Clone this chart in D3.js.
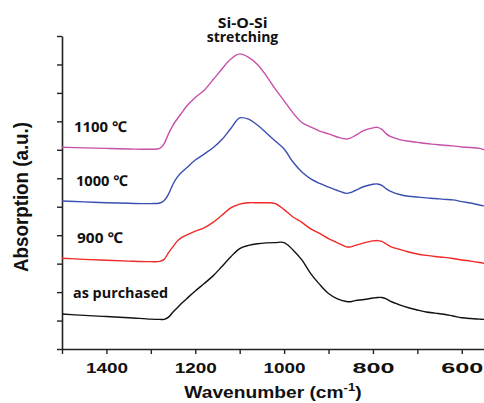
<!DOCTYPE html>
<html>
<head>
<meta charset="utf-8">
<script src="https://cdn.jsdelivr.net/npm/d3@7"></script>
<style>
    body { margin: 0; background: #fff; }
    svg { display: block; }
</style>
</head>
<body>
<svg id="chart" width="484" height="403"></svg>
<script>
// wavenumber (cm-1) sample points, shared by all four spectra
const wavenumbers = [1500, 1450, 1400, 1350, 1300, 1280, 1270, 1260, 1250, 1240, 1230, 1220,
    1200, 1180, 1160, 1140, 1120, 1100, 1080, 1060, 1040, 1020, 1000, 980, 960, 940, 920, 900,
    880, 860, 850, 840, 820, 800, 790, 780, 770, 760, 740, 720, 700, 680, 660, 640, 620, 600,
    580, 560, 550];

const asPurchased = [1.23, 1.18, 1.14, 1.10, 1.05, 1.04, 1.04, 1.12, 1.30, 1.46, 1.62, 1.76,
    2.04, 2.30, 2.57, 2.90, 3.24, 3.53, 3.64, 3.70, 3.73, 3.74, 3.74, 3.48, 3.13, 2.65, 2.27, 1.95,
    1.76, 1.67, 1.66, 1.70, 1.74, 1.79, 1.81, 1.81, 1.76, 1.67, 1.55, 1.45, 1.37, 1.30, 1.26, 1.22,
    1.16, 1.10, 1.07, 1.05, 1.04];

const t900 = [3.19, 3.15, 3.12, 3.09, 3.07, 3.08, 3.15, 3.39, 3.60, 3.80, 3.92, 4.00,
    4.14, 4.26, 4.45, 4.70, 4.96, 5.09, 5.14, 5.14, 5.14, 5.11, 4.90, 4.64, 4.45, 4.22, 4.06, 3.88,
    3.73, 3.59, 3.59, 3.64, 3.73, 3.80, 3.81, 3.78, 3.69, 3.60, 3.50, 3.41, 3.34, 3.29, 3.25, 3.22,
    3.18, 3.13, 3.09, 3.04, 3.01];

const t1000 = [5.20, 5.17, 5.14, 5.12, 5.11, 5.13, 5.22, 5.45, 5.80, 6.05, 6.22, 6.36,
    6.64, 6.85, 7.07, 7.36, 7.75, 8.12, 8.08, 7.87, 7.59, 7.31, 7.03, 6.57, 6.22, 5.98, 5.82, 5.69,
    5.57, 5.47, 5.50, 5.57, 5.71, 5.79, 5.80, 5.75, 5.63, 5.54, 5.43, 5.37, 5.34, 5.31, 5.29, 5.26,
    5.24, 5.18, 5.13, 5.06, 5.03];

const t1100 = [7.09, 7.07, 7.05, 7.03, 7.02, 7.05, 7.22, 7.57, 7.87, 8.10, 8.31, 8.52,
    8.84, 9.09, 9.46, 9.84, 10.19, 10.37, 10.25, 10.00, 9.60, 9.14, 8.72, 8.30, 7.96, 7.80, 7.66, 7.56,
    7.45, 7.38, 7.42, 7.50, 7.68, 7.77, 7.79, 7.72, 7.56, 7.46, 7.36, 7.30, 7.26, 7.22, 7.19, 7.16,
    7.14, 7.10, 7.08, 7.05, 7.00];

const seriesNames = ['as purchased', '900 ℃', '1000 ℃', '1100 ℃'];
const seriesColors = ['#111111', '#f02828', '#3a4fb2', '#c64fa9'];

const xTicks = [1500, 1400, 1300, 1200, 1100, 1000, 900, 800, 700, 600];
const xTickLabels = ['', '1400', '', '1200', '', '1000', '', '800', '', '600'];
const yTicks = d3.range(0, 12);


const build = () => {
    const svg = d3.select('#chart');

    const margin = {top: 36, right: 0, bottom: 54, left: 62};
    const width = +svg.attr('width');
    const height = +svg.attr('height');

    const xScale = d3.scaleLinear()
        .domain([1500, 550])
        .range([margin.left, width - margin.right]);

    const yScale = d3.scaleLinear()
        .domain([0, 11])
        .range([height - margin.bottom, margin.top]);

    const axisColor = '#222';

    // x axis
    const xAxis = d3.axisBottom(xScale)
        .tickValues(xTicks)
        .tickSize(5)
        .tickSizeOuter(0)
        .tickFormat((d, i) => xTickLabels[i]);

    const gx = svg.append('g')
        .attr('transform', 'translate(0,' + yScale(0) + ')')
        .call(xAxis);
    gx.select('.domain').attr('stroke', axisColor).attr('stroke-width', 1.6);
    gx.selectAll('.tick line').attr('stroke', axisColor).attr('stroke-width', 1.4);
    gx.selectAll('.tick text')
        .attr('y', 24)
        .attr('dy', 0)
        .attr('fill', '#111')
        .attr('font-family', '"Liberation Sans", Arial, sans-serif')
        .attr('font-weight', 'bold')
        .attr('font-size', 15)
        .filter(function () { return this.textContent !== ''; })
        .attr('textLength', 42)
        .attr('lengthAdjust', 'spacingAndGlyphs');

    // y axis, ticks only
    const yAxis = d3.axisLeft(yScale)
        .tickValues(yTicks)
        .tickSize(5)
        .tickSizeOuter(0)
        .tickFormat('');

    const gy = svg.append('g')
        .attr('transform', 'translate(' + margin.left + ',0)')
        .call(yAxis);
    gy.select('.domain').attr('stroke', axisColor).attr('stroke-width', 1.6);
    gy.selectAll('.tick line').attr('stroke', axisColor).attr('stroke-width', 1.4);

    // spectra
    const allSeries = [asPurchased, t900, t1000, t1100];
    const line = d3.line()
        .x((d, i) => xScale(wavenumbers[i]))
        .y(d => yScale(d))
        .curve(d3.curveCatmullRom.alpha(0.5));

    svg.append('g')
        .selectAll('path')
        .data(allSeries)
        .enter()
        .append('path')
        .attr('d', d => line(d))
        .attr('fill', 'none')
        .attr('stroke', (d, i) => seriesColors[i])
        .attr('stroke-width', 1.4)
        .attr('stroke-linejoin', 'round');

    // curve labels
    const labelPos = [
        {x: 73, y: 298, w: 95},
        {x: 77, y: 243, w: 46},
        {x: 76, y: 186, w: 52},
        {x: 74, y: 132, w: 53}
    ];
    svg.append('g')
        .selectAll('text')
        .data(seriesNames)
        .enter()
        .append('text')
        .attr('x', (d, i) => labelPos[i].x)
        .attr('y', (d, i) => labelPos[i].y)
        .attr('textLength', (d, i) => labelPos[i].w)
        .attr('lengthAdjust', 'spacingAndGlyphs')
        .attr('font-family', '"Open Sans", "Noto Sans", sans-serif')
        .attr('font-weight', 700)
        .attr('font-size', 15)
        .attr('fill', '#111')
        .text(d => d);

    // peak annotation
    const note = svg.append('g')
        .attr('font-family', '"Open Sans", "Noto Sans", sans-serif')
        .attr('font-weight', 700)
        .attr('font-size', 14)
        .attr('fill', '#111')
        .attr('text-anchor', 'middle');
    note.append('text')
        .attr('x', 242.7).attr('y', 27.5)
        .attr('textLength', 50).attr('lengthAdjust', 'spacingAndGlyphs')
        .text('Si-O-Si');
    note.append('text')
        .attr('x', 242.5).attr('y', 42)
        .attr('textLength', 71.6).attr('lengthAdjust', 'spacingAndGlyphs')
        .text('stretching');

    // axis titles
    const xTitle = svg.append('g')
        .attr('transform', 'translate(273,398) scale(1.2,1)')
        .append('text')
        .attr('text-anchor', 'middle')
        .attr('font-family', '"Liberation Sans", Arial, sans-serif')
        .attr('font-weight', 'bold')
        .attr('font-size', 16)
        .attr('fill', '#111');
    xTitle.append('tspan').text('Wavenumber (cm');
    xTitle.append('tspan').attr('font-size', 11).attr('dy', -7).text('-1');
    xTitle.append('tspan').attr('dy', 7).text(')');

    svg.append('g')
        .attr('transform', 'translate(28,197) scale(1.2,1) rotate(-90)')
        .append('text')
        .attr('text-anchor', 'middle')
        .attr('font-family', '"Liberation Sans", Arial, sans-serif')
        .attr('font-weight', 'bold')
        .attr('font-size', 17.5)
        .attr('textLength', 150)
        .attr('lengthAdjust', 'spacingAndGlyphs')
        .attr('fill', '#111')
        .text('Absorption (a.u.)');
};

build();
</script>
</body>
</html>
